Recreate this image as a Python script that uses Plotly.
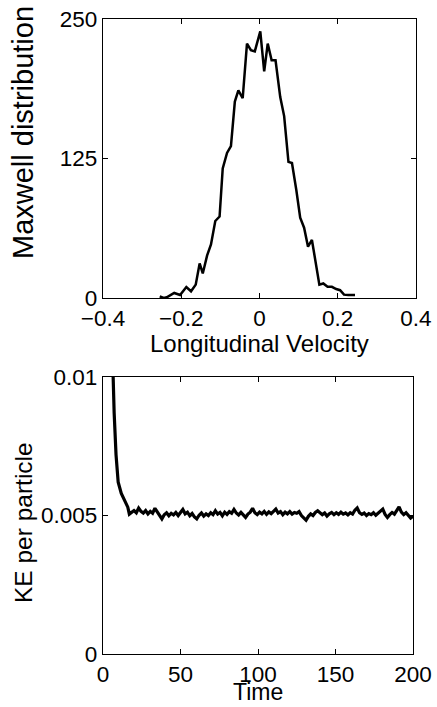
import plotly.graph_objects as go

# ---- Top panel: Maxwell distribution histogram (line) ----
velocity = [-0.255, -0.245, -0.237, -0.218, -0.203, -0.187, -0.175, -0.163, -0.153, -0.145,
            -0.134, -0.124, -0.113, -0.102, -0.094, -0.083, -0.073, -0.063, -0.054, -0.043,
            -0.032, -0.022, -0.012, 0.002, 0.012, 0.021, 0.031, 0.041, 0.053, 0.063,
            0.074, 0.083, 0.094, 0.104, 0.114, 0.124, 0.134, 0.145, 0.153, 0.163,
            0.174, 0.185, 0.196, 0.206, 0.216, 0.227, 0.244]
counts = [1.5, 0, 0.6, 4.5, 2.7, 9.8, 6, 12, 31, 22,
          38, 48, 69, 73, 116, 130, 136, 176, 186, 179,
          228, 222, 221, 239, 203, 228, 213, 213, 180, 163,
          122, 121, 97, 72, 63, 46, 52, 28, 12, 13,
          10, 10, 8, 7, 3, 2.7, 2.7]

# ---- Bottom panel: KE per particle vs time ----
time_early = [5.8, 6.5, 7.2, 8.4, 9.8, 11.8, 14.0, 16.0]
ke_early = [0.0115, 0.0100, 0.0087, 0.0072, 0.0062, 0.0058, 0.0055, 0.0053]

time_flat = [17.0, 18.5, 20.0, 21.5, 23.0, 24.5, 26.0, 27.5, 29.0, 30.5,
             32.0, 33.5, 35.0, 36.5, 38.0, 39.5, 41.0, 42.5, 44.0, 45.5,
             47.0, 48.5, 50.0, 51.5, 53.0, 54.5, 56.0, 57.5, 59.0, 60.5,
             62.0, 63.5, 65.0, 66.5, 68.0, 69.5, 71.0, 72.5, 74.0, 75.5,
             77.0, 78.5, 80.0, 81.5, 83.0, 84.5, 86.0, 87.5, 89.0, 90.5,
             92.0, 93.5, 95.0, 96.5, 98.0, 99.5, 101.0, 102.5, 104.0, 105.5,
             107.0, 108.5, 110.0, 111.5, 113.0, 114.5, 116.0, 117.5, 119.0, 120.5,
             122.0, 123.5, 125.0, 126.5, 128.0, 129.5, 131.0, 132.5, 134.0, 135.5,
             137.0, 138.5, 140.0, 141.5, 143.0, 144.5, 146.0, 147.5, 149.0, 150.5,
             152.0, 153.5, 155.0, 156.5, 158.0, 159.5, 161.0, 162.5, 164.0, 165.5,
             167.0, 168.5, 170.0, 171.5, 173.0, 174.5, 176.0, 177.5, 179.0, 180.5,
             182.0, 183.5, 185.0, 186.5, 188.0, 189.5, 191.0, 192.5, 194.0, 195.5,
             197.0, 198.5, 200.0]
ke_flat = [0.00505, 0.00512, 0.00518, 0.00510, 0.00527, 0.00515, 0.00509, 0.00518, 0.00506, 0.00515,
           0.00508, 0.00526, 0.00512, 0.00498, 0.00488, 0.00503, 0.00510, 0.00499, 0.00508, 0.00502,
           0.00511, 0.00500, 0.00509, 0.00522, 0.00506, 0.00512, 0.00499, 0.00507, 0.00495, 0.00488,
           0.00501, 0.00509, 0.00498, 0.00506, 0.00500, 0.00510, 0.00503, 0.00517, 0.00505, 0.00511,
           0.00499, 0.00512, 0.00504, 0.00514, 0.00508, 0.00522, 0.00509, 0.00502, 0.00511, 0.00500,
           0.00493, 0.00505, 0.00512, 0.00526, 0.00510, 0.00503, 0.00512, 0.00506, 0.00515, 0.00504,
           0.00513, 0.00507, 0.00515, 0.00523, 0.00509, 0.00514, 0.00503, 0.00512, 0.00506, 0.00514,
           0.00505, 0.00511, 0.00508, 0.00514, 0.00500, 0.00490, 0.00483, 0.00497, 0.00506, 0.00500,
           0.00511, 0.00517, 0.00508, 0.00503, 0.00509, 0.00498, 0.00506, 0.00511, 0.00503, 0.00510,
           0.00504, 0.00512, 0.00505, 0.00509, 0.00502, 0.00510, 0.00505, 0.00519, 0.00527, 0.00510,
           0.00504, 0.00509, 0.00500, 0.00507, 0.00503, 0.00510, 0.00501, 0.00509, 0.00516, 0.00523,
           0.00504, 0.00493, 0.00503, 0.00511, 0.00505, 0.00516, 0.00531, 0.00512, 0.00503, 0.00510,
           0.00499, 0.00491, 0.00497]

time_all = time_early + time_flat
ke_all = ke_early + ke_flat

top_xticks = [-0.4, -0.2, 0, 0.2, 0.4]
top_xticktext = ["\u22120.4", "\u22120.2", "0", "0.2", "0.4"]
top_yticks = [0, 125, 250]
bot_xticks = [0, 50, 100, 150, 200]
bot_yticks = [0, 0.005, 0.01]
bot_yticktext = ["0", "0.005", "0.01"]

FONT = "Liberation Sans, Arial, Helvetica, sans-serif"
W, H = 437, 707

fig = go.Figure()
fig.add_trace(go.Scatter(x=velocity, y=counts, mode="lines",
                         line=dict(color="black", width=2.5), xaxis="x", yaxis="y",
                         showlegend=False))
fig.add_trace(go.Scatter(x=time_all, y=ke_all, mode="lines",
                         line=dict(color="black", width=3.2), xaxis="x2", yaxis="y2",
                         showlegend=False))

axis_common = dict(showline=True, linecolor="black", linewidth=1.3, mirror="ticks",
                   ticks="inside", ticklen=5, tickwidth=1, tickcolor="black",
                   showgrid=False, zeroline=False, automargin=False,
                   tickfont=dict(family=FONT, size=22.5, color="black"))

fig.update_layout(
    width=W, height=H,
    margin=dict(l=0, r=0, t=0, b=0),
    paper_bgcolor="white", plot_bgcolor="white",
    xaxis=dict(domain=[103 / W, 416 / W], range=[-0.4, 0.4], anchor="y",
               tickvals=top_xticks, ticktext=top_xticktext, **axis_common),
    yaxis=dict(domain=[1 - 298 / H, 1 - 19 / H], range=[0, 250], anchor="x",
               tickvals=top_yticks, **axis_common),
    xaxis2=dict(domain=[103 / W, 413 / W], range=[0, 200], anchor="y2",
                tickvals=bot_xticks, **axis_common),
    yaxis2=dict(domain=[1 - 654 / H, 1 - 377 / H], range=[0, 0.01], anchor="x2",
                tickvals=bot_yticks, ticktext=bot_yticktext, **axis_common),
    annotations=[
        dict(text="Longitudinal Velocity", x=259.5 / W, y=1 - 343 / H, xref="paper", yref="paper",
             showarrow=False, xanchor="center", yanchor="middle",
             font=dict(family=FONT, size=24, color="black")),
        dict(text="Time", x=258 / W, y=1 - 692 / H, xref="paper", yref="paper",
             showarrow=False, xanchor="center", yanchor="middle",
             font=dict(family=FONT, size=23, color="black")),
        dict(text="Maxwell distribution", x=23 / W, y=1 - 133 / H, xref="paper", yref="paper",
             showarrow=False, xanchor="center", yanchor="middle", textangle=-90,
             font=dict(family=FONT, size=29, color="black")),
        dict(text="KE per particle", x=23 / W, y=1 - 523 / H, xref="paper", yref="paper",
             showarrow=False, xanchor="center", yanchor="middle", textangle=-90,
             font=dict(family=FONT, size=24.5, color="black")),
    ],
)

fig.write_html("out.html")
